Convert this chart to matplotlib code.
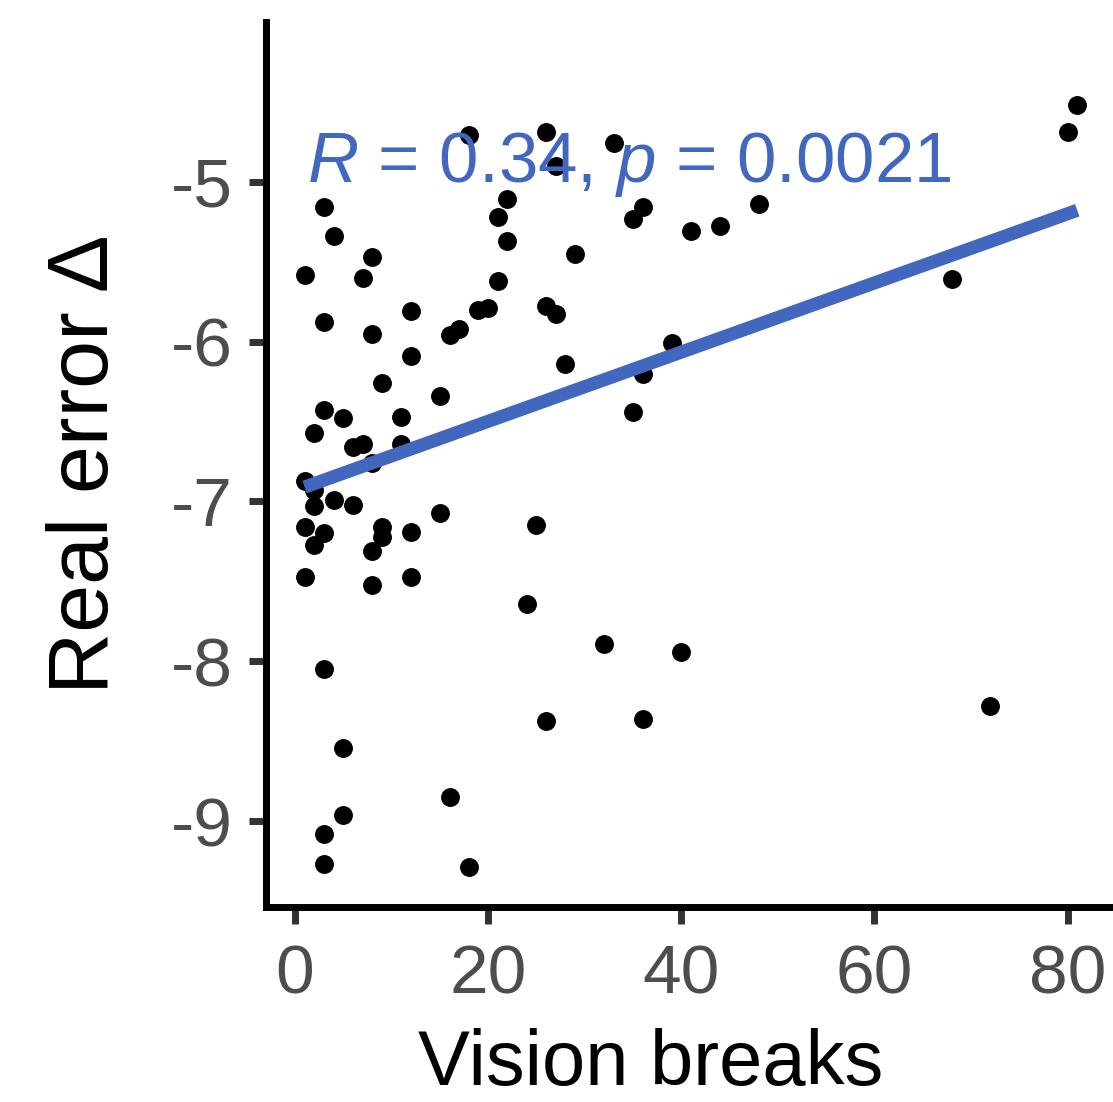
import matplotlib
matplotlib.use("Agg")
import matplotlib.pyplot as plt
import numpy as np

# vision breaks per subject and the corresponding real error delta
vision_breaks = [18, 26, 27, 3, 4, 8, 1, 7, 22, 21, 22, 21, 19, 20, 26, 27,
                 3, 12, 8, 17, 16, 12, 28, 9, 15, 3, 5, 11, 2, 6, 7, 11,
                 8, 1, 2, 2, 4, 6, 15, 1, 3, 2, 9, 9, 12, 8, 25, 1, 8, 12,
                 24, 3, 5, 5, 3, 3, 16, 18, 26, 33, 36, 35, 41, 44, 48, 29,
                 39, 36, 35, 32, 40, 36, 81, 80, 68, 72]
real_error = [-4.71, -4.69, -4.90, -5.16, -5.34, -5.47, -5.58, -5.60, -5.11,
              -5.22, -5.37, -5.62, -5.80, -5.79, -5.78, -5.83, -5.875, -5.81,
              -5.95, -5.92, -5.96, -6.09, -6.14, -6.26, -6.34, -6.43, -6.48,
              -6.47, -6.57, -6.66, -6.64, -6.64, -6.76, -6.875, -6.93, -7.03,
              -6.99, -7.02, -7.075, -7.16, -7.20, -7.275, -7.16, -7.22, -7.19,
              -7.31, -7.15, -7.475, -7.52, -7.475, -7.64, -8.05, -8.54, -8.96,
              -9.08, -9.27, -8.85, -9.29, -8.375, -4.76, -5.16, -5.23, -5.31,
              -5.275, -5.14, -5.45, -6.01, -6.20, -6.44, -7.89, -7.94, -8.36,
              -4.52, -4.69, -5.61, -8.28]
x_ticks = [0, 20, 40, 60, 80]
y_ticks = [-9, -8, -7, -6, -5]
cor_label = r"$\it{R}$ = 0.34, $\it{p}$ = 0.0021"

plt.rcParams["font.family"] = ["Liberation Sans", "DejaVu Sans"]
plt.rcParams["axes.unicode_minus"] = False
plt.rcParams["mathtext.fontset"] = "custom"
plt.rcParams["mathtext.rm"] = "Liberation Sans"
plt.rcParams["mathtext.it"] = "Liberation Sans:italic"

blue = "#4267BE"

fig = plt.figure(figsize=(11.13, 11.02), dpi=100)
ax = fig.add_axes([266 / 1113, 1 - 907 / 1102, 847 / 1113, 885 / 1102])

x = np.array(vision_breaks, dtype=float)
y = np.array(real_error)
ax.scatter(x, y, s=185, color="black", linewidths=0, zorder=2)

# linear fit over the observed range
slope, intercept = np.polyfit(x, y, 1)
xs = np.array([x.min(), x.max()])
ax.plot(xs, slope * xs + intercept, color=blue, lw=9.5, solid_capstyle="butt", zorder=3)

ax.text(1.2, -5.0, cor_label, color=blue, fontsize=51, va="baseline", ha="left", zorder=4)

ax.set_xlim(-3, 84.7)
ax.set_ylim(-9.5375, -4.0)
ax.set_xticks(x_ticks)
ax.set_yticks(y_ticks)

for side in ["top", "right"]:
    ax.spines[side].set_visible(False)
for side in ["left", "bottom"]:
    ax.spines[side].set_linewidth(5)
    ax.spines[side].set_color("black")
    ax.spines[side].set_capstyle("projecting")

ax.tick_params(axis="both", length=12, width=5, color="#333333",
               labelcolor="#4D4D4D", labelsize=50)
ax.tick_params(axis="y", pad=12)
ax.tick_params(axis="x", pad=14)

ax.set_xlabel("Vision breaks", fontsize=56, va="baseline", ha="center")
ax.xaxis.set_label_coords((651 - 266) / 847, (907 - 1085) / 885)
ax.set_ylabel("Real error Δ", fontsize=62, va="center", ha="center")
ax.yaxis.set_label_coords((86 - 266) / 847, 0.5)

fig.savefig("out.png", dpi=100)
